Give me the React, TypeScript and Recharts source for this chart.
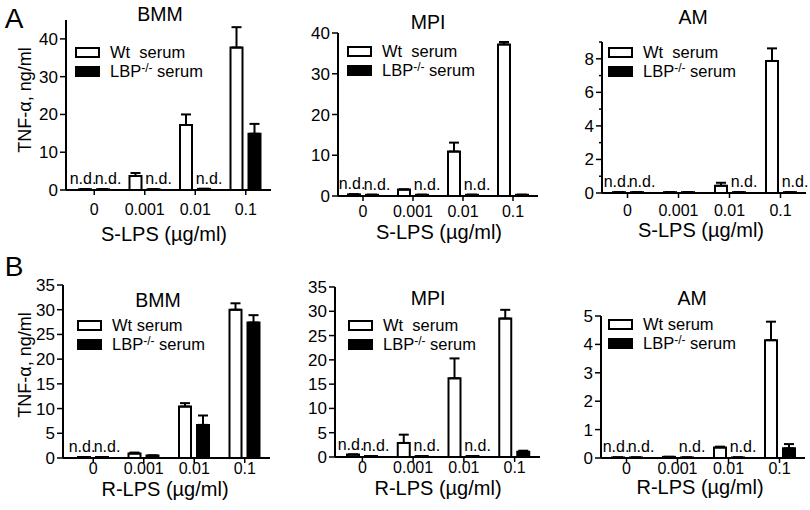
import React from 'react'
import { BarChart, Bar, XAxis, YAxis, ErrorBar, LabelList, Legend } from 'recharts'

const FONT = '"Liberation Sans", Arial, Helvetica, sans-serif'

const doses = ['0', '0.001', '0.01', '0.1']

// A: S-LPS
const aBmmWt = [0.2, 3.7, 17.2, 37.7]
const aBmmWtErr = [0, 0.8, 2.8, 5.4]
const aBmmLbp = [0.2, 0.2, 0.3, 14.9]
const aBmmLbpErr = [0, 0, 0, 2.6]
const aBmmWtNd = [true, false, false, false]
const aBmmLbpNd = [true, true, true, false]

const aMpiWt = [0.4, 1.6, 10.9, 37.2]
const aMpiWtErr = [0, 0, 2.2, 0.6]
const aMpiLbp = [0.3, 0.3, 0.3, 0.3]
const aMpiLbpErr = [0, 0, 0, 0]
const aMpiWtNd = [true, false, false, false]
const aMpiLbpNd = [true, true, true, false]

const aAmWt = [0.05, 0.05, 0.43, 7.87]
const aAmWtErr = [0, 0, 0.18, 0.75]
const aAmLbp = [0.05, 0.05, 0.05, 0.05]
const aAmLbpErr = [0, 0, 0, 0]
const aAmWtNd = [true, false, false, false]
const aAmLbpNd = [true, false, true, true]

// B: R-LPS
const bBmmWt = [0.2, 0.9, 10.4, 30.0]
const bBmmWtErr = [0, 0.2, 0.7, 1.3]
const bBmmLbp = [0.2, 0.5, 6.7, 27.4]
const bBmmLbpErr = [0, 0, 1.9, 1.5]
const bBmmWtNd = [true, false, false, false]
const bBmmLbpNd = [true, false, false, false]

const bMpiWt = [0.5, 2.9, 16.2, 28.5]
const bMpiWtErr = [0, 1.7, 4.1, 1.8]
const bMpiLbp = [0.2, 0.2, 0.2, 1.1]
const bMpiLbpErr = [0, 0, 0, 0.2]
const bMpiWtNd = [true, false, false, false]
const bMpiLbpNd = [true, true, true, false]

const bAmWt = [0.02, 0.04, 0.37, 4.15]
const bAmWtErr = [0, 0, 0.03, 0.65]
const bAmLbp = [0.02, 0.02, 0.02, 0.34]
const bAmLbpErr = [0, 0, 0, 0.15]
const bAmWtNd = [true, false, false, false]
const bAmLbpNd = [true, true, true, false]

const Y_W = 44
const M_TOP = 10
const M_RIGHT = 10
const X_H = 32

type PanelProps = {
  axisX: number
  plotTop: number
  zeroY: number
  plotW: number
  padL: number
  tickDy: number
  yMax: number
  yTicks: number[]
  yMajor: number[]
  wt: number[]
  wtErr: number[]
  lbp: number[]
  lbpErr: number[]
  wtNd: boolean[]
  lbpNd: boolean[]
  legendX: number
  legendY: number
  wtLabel: string
}

function LegendBox({ wtLabel }: { wtLabel: string }) {
  const row: React.CSSProperties = { display: 'flex', alignItems: 'center', height: 19 }
  const box: React.CSSProperties = { width: 25, height: 11, boxSizing: 'border-box', border: '2px solid #000', marginRight: 10 }
  const txt: React.CSSProperties = { fontFamily: FONT, fontSize: 16.5, color: '#000', whiteSpace: 'pre', lineHeight: '19px' }
  return (
    <div>
      <div style={row}>
        <div style={{ ...box, background: '#fff' }} />
        <span style={txt}>{wtLabel}</span>
      </div>
      <div style={row}>
        <div style={{ ...box, background: '#000' }} />
        <span style={txt}>
          LBP<sup style={{ fontSize: 12, verticalAlign: 'top', lineHeight: '12px' }}>-/-</sup> serum
        </span>
      </div>
    </div>
  )
}

// "n.d." marks above undetected bars; dx nudges wt labels left and LBP labels right
const ndLabel = (flags: boolean[], dx: number) => (props: any) => {
  const vb = props.viewBox ?? props
  const x = vb.x ?? props.x
  const y = vb.y ?? props.y
  const w = vb.width ?? props.width
  const h = vb.height ?? props.height ?? 0
  if (!flags[props.index]) return null
  return (
    <text x={x + w / 2 + dx} y={Math.min(y, y + h) - 5} textAnchor="middle" fontSize={16} fontFamily={FONT} fill="#000">
      n.d.
    </text>
  )
}

function Panel(p: PanelProps) {
  const left = p.axisX - Y_W
  const top = p.plotTop - M_TOP
  const plotH = p.zeroY - p.plotTop
  const width = Y_W + p.plotW + M_RIGHT
  const height = M_TOP + plotH + X_H
  const base = M_TOP + plotH

  const data = doses.map((d, i) => ({
    dose: d,
    wt: p.wt[i],
    lbp: p.lbp[i],
    wtErr: [0, p.wtErr[i]],
    lbpErr: [0, p.lbpErr[i]],
  }))

  const yTick = (t: any) => {
    const v = t.payload.value
    const major = p.yMajor.includes(v)
    return (
      <g>
        <line x1={Y_W - (major ? 6 : 3)} x2={Y_W} y1={t.y} y2={t.y} stroke="#000" strokeWidth={1.5} />
        {major && (
          <text x={Y_W - 8} y={t.y} dy={6} textAnchor="end" fontSize={17} fontFamily={FONT} fill="#000">
            {v}
          </text>
        )}
      </g>
    )
  }

  const xTick = (t: any) => (
    <g>
      <line x1={t.x} x2={t.x} y1={base} y2={base + 5} stroke="#000" strokeWidth={1.5} />
      <text x={t.x} y={base + p.tickDy} textAnchor="middle" fontSize={16} fontFamily={FONT} fill="#000">
        {t.payload.value}
      </text>
    </g>
  )

  return (
    <div style={{ position: 'absolute', left, top }}>
      <BarChart
        width={width}
        height={height}
        data={data}
        margin={{ top: M_TOP, right: M_RIGHT, bottom: 0, left: 0 }}
        barGap={6}
        style={{ overflow: 'visible' }}
      >
        <XAxis
          dataKey="dose"
          height={X_H}
          padding={{ left: p.padL, right: 0 }}
          axisLine={{ stroke: '#000', strokeWidth: 2 }}
          tickLine={false}
          tick={xTick}
          interval={0}
        />
        <YAxis
          width={Y_W}
          domain={[0, p.yMax]}
          ticks={p.yTicks}
          interval={0}
          axisLine={{ stroke: '#000', strokeWidth: 2 }}
          tickLine={false}
          tick={yTick}
          allowDataOverflow
        />
        <Legend
          layout="vertical"
          align="center"
          verticalAlign="middle"
          wrapperStyle={{ left: p.legendX - left, top: p.legendY - top, width: 'auto' }}
          content={() => <LegendBox wtLabel={p.wtLabel} />}
        />
        <Bar dataKey="wt" fill="#fff" stroke="#000" strokeWidth={2} barSize={12} isAnimationActive={false}>
          <ErrorBar dataKey="wtErr" direction="y" width={5} stroke="#000" strokeWidth={2} />
          <LabelList dataKey="wt" content={ndLabel(p.wtNd, -2)} />
        </Bar>
        <Bar dataKey="lbp" fill="#000" stroke="#000" strokeWidth={2} barSize={12} isAnimationActive={false}>
          <ErrorBar dataKey="lbpErr" direction="y" width={5} stroke="#000" strokeWidth={2} />
          <LabelList dataKey="lbp" content={ndLabel(p.lbpNd, 5)} />
        </Bar>
      </BarChart>
    </div>
  )
}

const ticks10 = [0, 10, 20, 30, 40]
const ticks5 = [0, 5, 10, 15, 20, 25, 30, 35]

export default function App() {
  const texts: { t: string; x: number; y: number; s: number }[] = [
    { t: 'A', x: 14, y: 28, s: 28 },
    { t: 'B', x: 14, y: 276, s: 28 },
    { t: 'BMM', x: 160, y: 21, s: 19.5 },
    { t: 'MPI', x: 428, y: 29, s: 19.5 },
    { t: 'AM', x: 693, y: 24, s: 19.5 },
    { t: 'BMM', x: 158, y: 307, s: 19.5 },
    { t: 'MPI', x: 428, y: 305, s: 19.5 },
    { t: 'AM', x: 692, y: 305, s: 19.5 },
    { t: 'S-LPS (\u00b5g/ml)', x: 164, y: 241, s: 20 },
    { t: 'S-LPS (\u00b5g/ml)', x: 439, y: 239, s: 20 },
    { t: 'S-LPS (\u00b5g/ml)', x: 701, y: 237, s: 20 },
    { t: 'R-LPS (\u00b5g/ml)', x: 165, y: 496, s: 20 },
    { t: 'R-LPS (\u00b5g/ml)', x: 438, y: 495, s: 20 },
    { t: 'R-LPS (\u00b5g/ml)', x: 700, y: 494, s: 20 },
  ]

  return (
    <div style={{ position: 'absolute', left: 0, top: 0, width: 810, height: 510, background: '#fff', overflow: 'hidden' }}>
      <Panel axisX={66} plotTop={20} zeroY={190} plotW={205} padL={3} tickDy={25} yMax={45} yTicks={ticks10} yMajor={ticks10}
        wt={aBmmWt} wtErr={aBmmWtErr} lbp={aBmmLbp} lbpErr={aBmmLbpErr} wtNd={aBmmWtNd} lbpNd={aBmmLbpNd}
        legendX={75} legendY={43} wtLabel="Wt  serum" />
      <Panel axisX={338} plotTop={33} zeroY={196} plotW={200} padL={0} tickDy={21} yMax={40} yTicks={ticks10} yMajor={ticks10}
        wt={aMpiWt} wtErr={aMpiWtErr} lbp={aMpiLbp} lbpErr={aMpiLbpErr} wtNd={aMpiWtNd} lbpNd={aMpiLbpNd}
        legendX={347} legendY={42} wtLabel="Wt  serum" />
      <Panel axisX={602} plotTop={42} zeroY={193} plotW={204} padL={0} tickDy={23} yMax={9} yTicks={[0, 1, 2, 3, 4, 5, 6, 7, 8, 9]} yMajor={[0, 2, 4, 6, 8]}
        wt={aAmWt} wtErr={aAmWtErr} lbp={aAmLbp} lbpErr={aAmLbpErr} wtNd={aAmWtNd} lbpNd={aAmLbpNd}
        legendX={608} legendY={43} wtLabel="Wt  serum" />
      <Panel axisX={63} plotTop={285} zeroY={458} plotW={207} padL={5} tickDy={16} yMax={35} yTicks={ticks5} yMajor={ticks5}
        wt={bBmmWt} wtErr={bBmmWtErr} lbp={bBmmLbp} lbpErr={bBmmLbpErr} wtNd={bBmmWtNd} lbpNd={bBmmLbpNd}
        legendX={77} legendY={316} wtLabel="Wt serum" />
      <Panel axisX={335} plotTop={287} zeroY={457} plotW={205} padL={2} tickDy={16} yMax={35} yTicks={ticks5} yMajor={ticks5}
        wt={bMpiWt} wtErr={bMpiWtErr} lbp={bMpiLbp} lbpErr={bMpiLbpErr} wtNd={bMpiWtNd} lbpNd={bMpiLbpNd}
        legendX={348} legendY={316} wtLabel="Wt  serum" />
      <Panel axisX={601} plotTop={316} zeroY={458} plotW={204} padL={0} tickDy={16} yMax={5} yTicks={[0, 1, 2, 3, 4, 5]} yMajor={[0, 1, 2, 3, 4, 5]}
        wt={bAmWt} wtErr={bAmWtErr} lbp={bAmLbp} lbpErr={bAmLbpErr} wtNd={bAmWtNd} lbpNd={bAmLbpNd}
        legendX={608} legendY={315} wtLabel="Wt serum" />
      <svg width={810} height={510} style={{ position: 'absolute', left: 0, top: 0, pointerEvents: 'none' }}>
        {texts.map((d, i) => (
          <text key={i} x={d.x} y={d.y} textAnchor="middle" fontSize={d.s} fontFamily={FONT} fill="#000">
            {d.t}
          </text>
        ))}
        <text x={31} y={100} transform="rotate(-90, 31, 100)" textAnchor="middle" fontSize={18} fontFamily={FONT} fill="#000">
          TNF-α, ng/ml
        </text>
        <text x={31} y={365} transform="rotate(-90, 31, 365)" textAnchor="middle" fontSize={18} fontFamily={FONT} fill="#000">
          TNF-α, ng/ml
        </text>
      </svg>
    </div>
  )
}
